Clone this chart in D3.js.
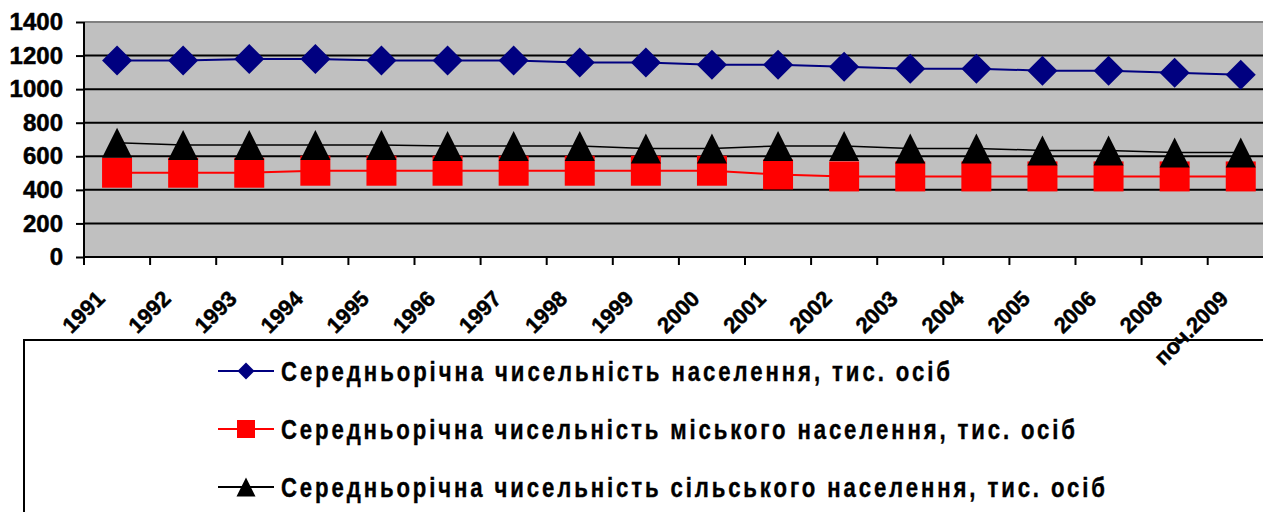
<!DOCTYPE html>
<html>
<head>
<meta charset="utf-8">
<script src="https://cdn.jsdelivr.net/npm/d3@7"></script>
<style>
  html, body { margin: 0; padding: 0; background: #fff; overflow: hidden; }
  svg { display: block; }
</style>
</head>
<body>
<svg id="chart" width="1263" height="512"></svg>
<script>
// ---- data ----
const categories = ["1991","1992","1993","1994","1995","1996","1997","1998","1999","2000","2001","2002","2003","2004","2005","2006","2008","поч.2009"];
const totalValues = [1170,1170,1180,1180,1170,1170,1170,1158,1158,1146,1146,1134,1122,1122,1110,1110,1098,1086];
const urbanValues = [502,502,502,514,514,514,514,514,514,514,492,480,480,480,480,480,480,480];
const ruralValues = [681,667,667,667,667,661,661,661,647,647,661,661,647,647,635,635,623,623];
const yTickValues = [0,200,400,600,800,1000,1200,1400];
const seriesNames = [
  "Середньорічна чисельність населення, тис. осіб",
  "Середньорічна чисельність міського населення, тис. осіб",
  "Середньорічна чисельність сільського населення, тис. осіб"
];

// ---- layout ----
const svg = d3.select("#chart");
const plotLeft = 84, plotTop = 22, plotBottom = 257, bandW = 66.1;
const plotRight = plotLeft + bandW * categories.length;
const FONT = "'Liberation Sans', Arial, sans-serif";

const x = d3.scaleBand().domain(categories).range([plotLeft, plotRight]).paddingInner(0).paddingOuter(0);
const y = d3.scaleLinear().domain([0, 1400]).range([plotBottom, plotTop]);
const cx = c => x(c) + x.bandwidth() / 2;

// ---- legend (drawn first so axis labels overlap it) ----
const legend = svg.append("g");
legend.append("rect").attr("x", 24).attr("y", 340).attr("width", 1400).attr("height", 300)
  .attr("fill", "#fff").attr("stroke", "#000").attr("stroke-width", 2);

// plot area
svg.append("rect").attr("x", plotLeft).attr("y", plotTop)
  .attr("width", plotRight - plotLeft).attr("height", plotBottom - plotTop)
  .attr("fill", "#c0c0c0");

// gridlines
svg.append("g").selectAll("line").data(yTickValues.filter(v => v > 0 && v < 1400)).join("line")
  .attr("x1", plotLeft).attr("x2", plotRight)
  .attr("y1", d => y(d)).attr("y2", d => y(d))
  .attr("stroke", "#000").attr("stroke-width", 2);
svg.append("line").attr("x1", plotLeft).attr("x2", plotRight)
  .attr("y1", y(1400)).attr("y2", y(1400))
  .attr("stroke", "#808080").attr("stroke-width", 2);

// y axis
const yAxis = d3.axisLeft(y).tickValues(yTickValues).tickSize(8).tickPadding(13).tickFormat(d3.format("d"));
const gy = svg.append("g").attr("transform", `translate(${plotLeft},0)`).call(yAxis);
gy.select(".domain").attr("stroke", "#000").attr("stroke-width", 2).attr("d", `M0,${plotTop}V${plotBottom}`);
gy.selectAll(".tick line").attr("stroke", "#000").attr("stroke-width", 2);
gy.selectAll(".tick text").attr("fill", "#000").attr("stroke", "#000").attr("stroke-width", 0.5)
  .style("font-family", FONT).style("font-weight", "bold").style("font-size", "24px");

// x axis (ticks between categories)
const boundaries = categories.map(c => x(c));
const gx = svg.append("g");
gx.append("line").attr("x1", plotLeft).attr("x2", plotRight)
  .attr("y1", plotBottom).attr("y2", plotBottom)
  .attr("stroke", "#000").attr("stroke-width", 2);
gx.selectAll("line.tk").data(boundaries).join("line").attr("class", "tk")
  .attr("x1", d => d).attr("x2", d => d)
  .attr("y1", plotBottom).attr("y2", plotBottom + 8)
  .attr("stroke", "#000").attr("stroke-width", 2);
gx.selectAll("text").data(categories).join("text")
  .attr("transform", d => `translate(${cx(d) - 11},${plotBottom + 43}) rotate(-45)`)
  .attr("text-anchor", "end")
  .style("font-family", FONT).style("font-weight", "bold").style("font-size", "22px")
  .attr("fill", "#000").attr("stroke", "#000").attr("stroke-width", 0.5)
  .text(d => d);

// ---- series ----
const series = [
  { values: totalValues, color: "#000080", sw: 2, shape: "diamond" },
  { values: urbanValues, color: "#ff0000", sw: 2, shape: "square" },
  { values: ruralValues, color: "#000000", sw: 1.5, shape: "triangle" }
];

function markerPath(shape, s) {
  const h = s / 2;
  if (shape === "diamond") return `M0,${-h}L${h},0L0,${h}L${-h},0Z`;
  if (shape === "square") return `M${-h},${-h}H${h}V${h}H${-h}Z`;
  return `M0,${-h}L${h},${h}L${-h},${h}Z`;
}
const markerFill = { diamond: "#000080", square: "#ff0000", triangle: "#000000" };

const line = d3.line().x(d => cx(d.c)).y(d => y(d.v));

series.forEach(s => {
  const pts = categories.map((c, i) => ({ c, v: s.values[i] }));
  const g = svg.append("g");
  g.append("path").datum(pts).attr("d", line)
    .attr("fill", "none").attr("stroke", s.color).attr("stroke-width", s.sw);
  g.selectAll("path.m").data(pts).join("path").attr("class", "m")
    .attr("transform", d => `translate(${cx(d.c)},${y(d.v)})`)
    .attr("d", markerPath(s.shape, 30))
    .attr("fill", markerFill[s.shape]);
});

// legend entries
const rowY = [371, 429, 487];
const textWidths = [669, 794, 824];
const legendSizes = { diamond: 17, square: 18, triangle: 19 };
const narrow = 0.82;
series.forEach((s, i) => {
  const ry = rowY[i];
  legend.append("line").attr("x1", 218).attr("x2", 274).attr("y1", ry).attr("y2", ry)
    .attr("stroke", s.color).attr("stroke-width", 2);
  legend.append("path").attr("transform", `translate(246,${ry})`)
    .attr("d", markerPath(s.shape, legendSizes[s.shape]))
    .attr("fill", markerFill[s.shape]);
  legend.append("text")
    .attr("transform", `translate(281,${ry + 9.8}) scale(${narrow},1)`)
    .attr("x", 0).attr("y", 0)
    .attr("textLength", textWidths[i] / narrow).attr("lengthAdjust", "spacing")
    .style("font-family", FONT).style("font-weight", "bold").style("font-size", "27px")
    .attr("fill", "#000").attr("stroke", "#000").attr("stroke-width", 0.4)
    .text(seriesNames[i]);
});
</script>
</body>
</html>
